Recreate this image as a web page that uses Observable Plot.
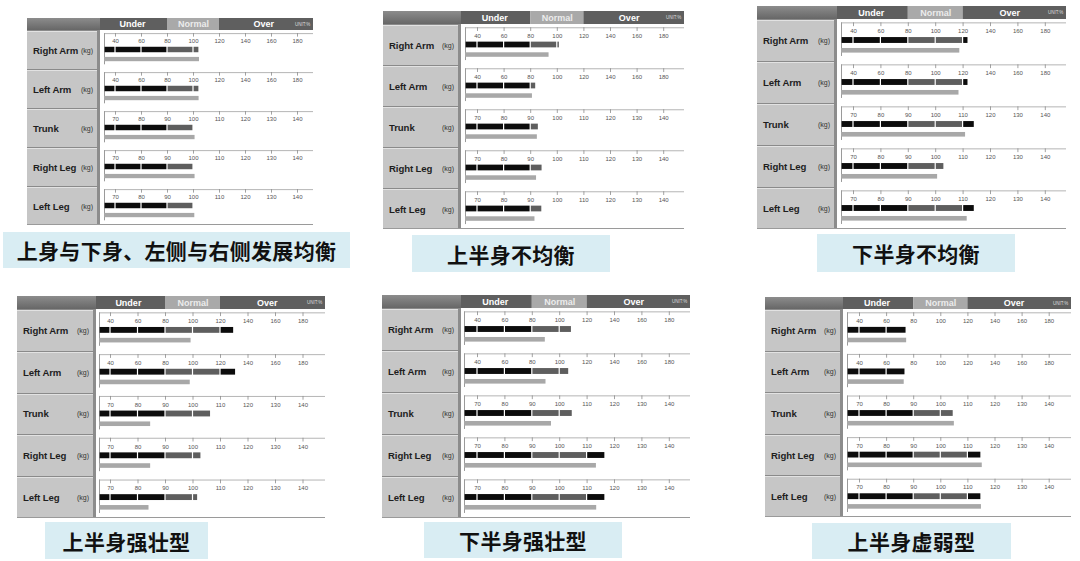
<!DOCTYPE html>
<html><head><meta charset="utf-8">
<script src="https://cdn.jsdelivr.net/npm/d3@7"></script>
<script src="https://cdn.jsdelivr.net/npm/@observablehq/plot@0.6"></script>
<style>
html,body{margin:0;padding:0;background:#fff}
body{width:1080px;height:561px;overflow:hidden;position:relative;font-family:"Liberation Sans",Arial,sans-serif}
.panel{position:absolute}
.lab{position:absolute;left:0;top:0;background:#c6c6c6}
.lab .hd{background:linear-gradient(#8c8c8c,#676767)}
.lab .row{box-sizing:border-box;display:flex;align-items:center;justify-content:space-between;border-top:1px solid #8a8a8a;border-right:3px solid #8c8c8c;box-shadow:inset 0 1px 0 #e2e2e2;padding:0 4px 0 6px;color:#1e1e1e}
.lab .nm{font-weight:700;font-size:9.6px;letter-spacing:-0.1px}
.lab .kg{font-size:7px;color:#333}
.bot{position:absolute;left:0;height:1px;background:#9a9a9a}
.plot{position:absolute;top:0}
.cap{position:absolute;background:#d9edf3;display:flex;align-items:center;justify-content:center;font-family:"Noto Sans CJK SC",sans-serif;font-weight:700;font-size:21px;color:#111;letter-spacing:0.3px}
</style></head>
<body>
<script>
// ---- data ----
const rows = ["Right Arm", "Left Arm", "Trunk", "Right Leg", "Left Leg"];
const armTicks = [40, 60, 80, 100, 120, 140, 160, 180];
const bodyTicks = [70, 80, 90, 100, 110, 120, 130, 140];
const armNormal = [80, 120];
const bodyNormal = [90, 110];
const zoneNames = ["Under", "Normal", "Over"];
const unitLabel = "UNIT:%";
const captions = ["上身与下身、左侧与右侧发展均衡", "上半身不均衡", "下半身不均衡", "上半身强壮型", "下半身强壮型", "上半身虚弱型"];
// upper (dark) bar and lower (light) bar per panel, in %
const upper1 = [104.6, 104.6, 100.4, 100.4, 100.3];
const lower1 = [104.6, 104.3, 100.6, 100.6, 100.5];
const upper2 = [102, 84.2, 93.1, 94.5, 94.4];
const lower2 = [93.8, 81.3, 92.5, 92.2, 91.6];
const upper3 = [124, 124, 114.3, 103.2, 114.3];
const lower3 = [117.6, 117, 110.9, 100.7, 111.5];
const upper4 = [130, 131.4, 106.6, 103.1, 101.9];
const lower4 = [98.6, 98, 84.6, 84.6, 84];
const upper5 = [109, 107, 104.8, 116.7, 116.7];
const lower5 = [89.5, 90, 97, 113.4, 113.5];
const upper6 = [74.8, 74, 104.8, 115, 115];
const lower6 = [74.8, 73, 105, 115.3, 115];

// ---- layout (pixels) ----
const layouts = [
  {left:27, top:18, labelRight:100, plotLeft:104, tick0:115, sp:26, right:313, bottom:225, hh:12},
  {left:383, top:11, labelRight:461, plotLeft:465, tick0:477, sp:26.6, right:684, bottom:229, hh:13},
  {left:757, top:6, labelRight:837, plotLeft:841, tick0:853, sp:27.4, right:1066, bottom:229, hh:13},
  {left:17, top:296, labelRight:96, plotLeft:99, tick0:110, sp:27.5, right:325, bottom:518, hh:13},
  {left:382, top:295, labelRight:461, plotLeft:464, tick0:477, sp:27.4, right:690, bottom:518, hh:13},
  {left:765, top:297, labelRight:843, plotLeft:847, tick0:859, sp:27.1, right:1071, bottom:517, hh:12}
];
const capBoxes = [
  {x:3, y:232, w:347, h:36}, {x:412, y:235, w:198, h:37}, {x:817, y:234, w:198, h:38},
  {x:45, y:522, w:163, h:37}, {x:424, y:522, w:198, h:36}, {x:812, y:523, w:199, h:36}
];
const panels = [[upper1, lower1], [upper2, lower2], [upper3, lower3], [upper4, lower4], [upper5, lower5], [upper6, lower6]];

const tickSet = i => (i < 2 ? armTicks : bodyTicks);
const toIdx = (i, v) => { const t = tickSet(i); return (v - t[0]) / (t[1] - t[0]); };

function drawPanel(L, upper, lower) {
  const W = L.right - L.labelRight, H = L.bottom - L.top;
  const rowH = (H - L.hh) / rows.length, hR = L.hh / rowH;
  const xmin = (L.labelRight - L.tick0) / L.sp;
  const xmax = (L.right - L.tick0) / L.sp;
  const start = (L.plotLeft - L.tick0) / L.sp;
  const nLo = toIdx(0, armNormal[0]), nHi = toIdx(0, armNormal[1]);

  const panel = document.createElement("div");
  panel.className = "panel";
  Object.assign(panel.style, {left: L.left + "px", top: L.top + "px", width: (L.right - L.left) + "px", height: H + "px"});

  // label column
  const lab = document.createElement("div");
  lab.className = "lab";
  lab.style.width = (L.labelRight - L.left) + "px";
  lab.style.height = H + "px";
  const hd = document.createElement("div");
  hd.className = "hd"; hd.style.height = L.hh + "px";
  lab.appendChild(hd);
  rows.forEach(r => {
    const d = document.createElement("div");
    d.className = "row"; d.style.height = rowH + "px";
    d.innerHTML = `<span class="nm">${r}</span><span class="kg">(kg)</span>`;
    lab.appendChild(d);
  });
  panel.appendChild(lab);

  // data tables
  const zones = zoneNames.map((name, k) => ({
    name,
    x1: [xmin, nLo, nHi][k],
    x2: [nLo, nHi, xmax][k],
    fill: k === 1 ? "#a9a9a9" : "#5f5f5f",
    tx: [0.65, (nLo + nHi) / 2, 5.7][k],
    tfill: k === 1 ? "#ececec" : "#ffffff"
  }));
  const ticks = [];
  rows.forEach((r, i) => tickSet(i).forEach((lab, j) => ticks.push({row: i, j, label: lab})));
  const breaks = [start, 0, 1, 2, 3, 4, 5, 6, 7, xmax];
  const segs = [];
  rows.forEach((r, i) => {
    const e = toIdx(i, upper[i]);
    for (let k = 0; k < breaks.length - 1; k++) {
      const a = breaks[k], b = Math.min(breaks[k + 1], e);
      if (b <= a) break;
      segs.push({row: i, x1: a, x2: b, normal: a >= nLo - 1e-9 && a < nHi - 1e-9});
    }
  });
  const lowBars = rows.map((r, i) => ({row: i, x2: toIdx(i, lower[i])}));
  const rowIdx = rows.map((r, i) => i);

  const plot = Plot.plot({
    width: W, height: H,
    marginTop: 0, marginBottom: 0, marginLeft: 0, marginRight: 0,
    x: {domain: [xmin, xmax], range: [0, W], axis: null},
    y: {domain: [-hR, rows.length], range: [0, H], axis: null},
    style: {fontFamily: "Liberation Sans, Arial, sans-serif", background: "transparent", overflow: "visible"},
    marks: [
      Plot.rect(zones, {x1: "x1", x2: "x2", y1: -hR, y2: 0, fill: "fill"}),
      Plot.text(zones, {x: "tx", y: -hR / 2, text: "name", fill: "tfill", fontSize: 9, fontWeight: "bold"}),
      Plot.text([unitLabel], {x: xmax - 0.12, y: -hR / 2, text: d => d, textAnchor: "end", fontSize: 4.5, fill: "#dddddd"}),
      Plot.ruleY(rowIdx, {y: i => i + 0.08, x1: start, x2: xmax, stroke: "#b5b5b5", strokeWidth: 1}),
      Plot.ruleX(rowIdx, {x: start, y1: i => i + 0.08, y2: i => i + 0.88, stroke: "#9a9a9a", strokeWidth: 1}),
      Plot.ruleX(ticks, {x: "j", y1: d => d.row + 0.08, y2: d => d.row + 0.17, stroke: "#8a8a8a", strokeWidth: 0.8}),
      Plot.text(ticks, {x: "j", y: d => d.row + 0.28, text: "label", fontSize: 6, fill: "#555"}),
      Plot.rect(segs, {x1: "x1", x2: "x2", y1: d => d.row + 0.43, y2: d => d.row + 0.57, fill: d => d.normal ? "#5e5e5e" : "#0c0c0c", insetLeft: 0.6, insetRight: 0.6}),
      Plot.rect(lowBars, {x1: start, x2: "x2", y1: d => d.row + 0.69, y2: d => d.row + 0.8, fill: "#a8a8a8"})
    ]
  });
  plot.classList.add("plot");
  plot.style.left = (L.labelRight - L.left) + "px";
  panel.appendChild(plot);

  const bot = document.createElement("div");
  bot.className = "bot";
  bot.style.top = (H - 1) + "px";
  bot.style.width = (L.right - L.left) + "px";
  panel.appendChild(bot);

  document.body.appendChild(panel);
}

layouts.forEach((L, p) => drawPanel(L, panels[p][0], panels[p][1]));

captions.forEach((c, i) => {
  const b = capBoxes[i];
  const d = document.createElement("div");
  d.className = "cap";
  Object.assign(d.style, {left: b.x + "px", top: b.y + "px", width: b.w + "px", height: b.h + "px"});
  d.textContent = c;
  document.body.appendChild(d);
});
</script>
</body></html>
